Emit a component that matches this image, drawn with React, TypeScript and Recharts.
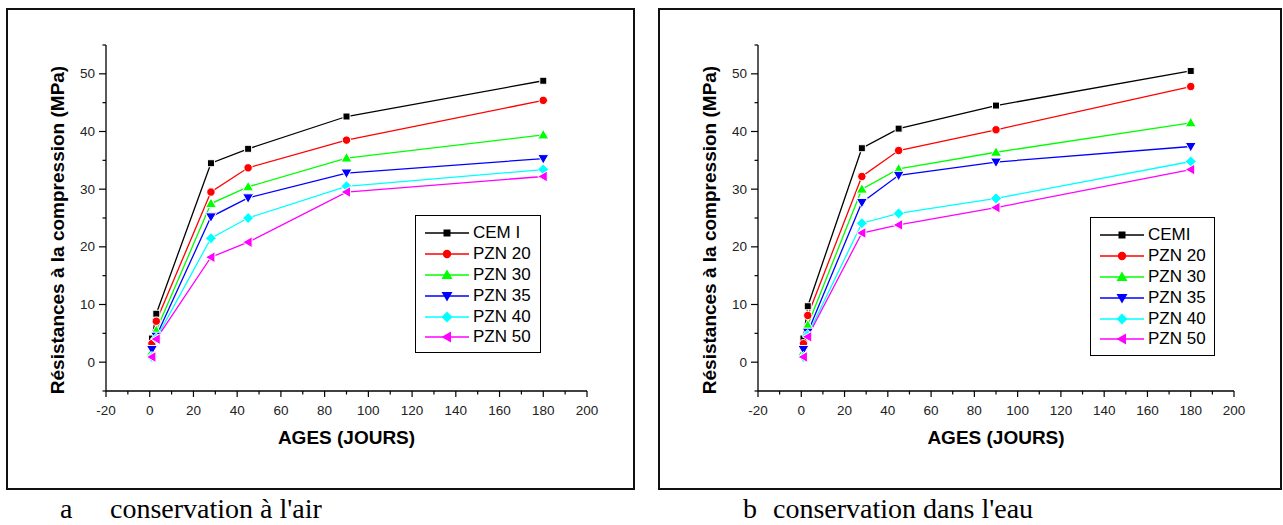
import { LineChart, Line, XAxis, YAxis } from 'recharts';

// ages (days) and compressive strength (MPa)
const ages = [1, 3, 28, 45, 90, 180];

const cemAir = [4.1, 8.4, 34.5, 37.0, 42.6, 48.8];
const pzn20Air = [3.2, 7.1, 29.5, 33.7, 38.5, 45.4];
const pzn30Air = [1.8, 5.5, 27.5, 30.4, 35.4, 39.4];
const pzn35Air = [2.2, 4.5, 25.2, 28.5, 32.8, 35.3];
const pzn40Air = [0.9, 4.1, 21.5, 25.0, 30.5, 33.4];
const pzn50Air = [0.9, 4.0, 18.2, 20.8, 29.5, 32.2];

const cemWater = [4.1, 9.7, 37.1, 40.5, 44.5, 50.5];
const pzn20Water = [3.2, 8.1, 32.2, 36.7, 40.3, 47.8];
const pzn30Water = [1.8, 6.4, 30.0, 33.5, 36.4, 41.5];
const pzn35Water = [2.2, 5.2, 27.7, 32.4, 34.7, 37.4];
const pzn40Water = [0.9, 4.7, 24.1, 25.8, 28.4, 34.8];
const pzn50Water = [0.9, 4.4, 22.4, 23.8, 26.8, 33.4];

const airNames = ['CEM I', 'PZN 20', 'PZN 30', 'PZN 35', 'PZN 40', 'PZN 50'];
const waterNames = ['CEMI', 'PZN 20', 'PZN 30', 'PZN 35', 'PZN 40', 'PZN 50'];

const xTicks = [-20, -10, 0, 10, 20, 30, 40, 50, 60, 70, 80, 90, 100, 110, 120, 130, 140, 150, 160, 170, 180, 190, 200];
const yTicks = [-5, 0, 5, 10, 15, 20, 25, 30, 35, 40, 45, 50, 55];

const seriesKeys = ['s0', 's1', 's2', 's3', 's4', 's5'];
const colors = ['#000000', '#ff0000', '#00ff00', '#0000ff', '#00ffff', '#ff00ff'];
const shapes = ['square', 'circle', 'up', 'down', 'diamond', 'left'];

const SANS = '"Liberation Sans", Arial, sans-serif';

function buildRows(series: number[][]) {
  return ages.map((age, i) => {
    const row: Record<string, number> = { age };
    series.forEach((s, k) => (row[seriesKeys[k]] = s[i]));
    return row;
  });
}

function Marker({ shape, cx, cy, color, outline }: { shape: string; cx: number; cy: number; color: string; outline?: boolean }) {
  const sw = outline ? 1 : 0;
  const st = outline ? '#fff' : 'none';
  if (shape === 'square') return <rect x={cx - 3.5} y={cy - 3.5} width={7} height={7} fill={color} stroke={st} strokeWidth={sw} />;
  if (shape === 'circle') return <circle cx={cx} cy={cy} r={4.2} fill={color} stroke={st} strokeWidth={sw} />;
  let pts = '';
  if (shape === 'up') pts = `${cx},${cy - 5.5} ${cx - 5.5},${cy + 4} ${cx + 5.5},${cy + 4}`;
  if (shape === 'down') pts = `${cx},${cy + 5.5} ${cx - 5.5},${cy - 4} ${cx + 5.5},${cy - 4}`;
  if (shape === 'diamond') pts = `${cx},${cy - 5.5} ${cx + 5.5},${cy} ${cx},${cy + 5.5} ${cx - 5.5},${cy}`;
  if (shape === 'left') pts = `${cx - 5.5},${cy} ${cx + 4},${cy - 5.5} ${cx + 4},${cy + 5.5}`;
  return <polygon points={pts} fill={color} stroke={st} strokeWidth={sw} />;
}

function XTick(props: any) {
  const { x, y, payload } = props;
  const major = payload.value % 20 === 0;
  return (
    <g>
      <line x1={x} x2={x} y1={y} y2={y + (major ? 6 : 3.5)} stroke="#000" strokeWidth={1.2} />
      {major && (
        <text x={x} y={y + 24} textAnchor="middle" fontSize={13.5} fill="#222" fontFamily={SANS}>
          {payload.value}
        </text>
      )}
    </g>
  );
}

function YTick(props: any) {
  const { x, y, payload } = props;
  const major = payload.value % 10 === 0;
  return (
    <g>
      <line x1={x} x2={x - (major ? 7 : 3.5)} y1={y} y2={y} stroke="#000" strokeWidth={1.2} />
      {major && (
        <text x={x - 11} y={y + 4.5} textAnchor="end" fontSize={13.5} fill="#222" fontFamily={SANS}>
          {payload.value}
        </text>
      )}
    </g>
  );
}

function LegendBox({ names, left, top, width, height }: { names: string[]; left: number; top: number; width: number; height: number }) {
  return (
    <div
      style={{
        position: 'absolute', left, top, width, height, boxSizing: 'border-box',
        border: '1px solid #000', background: '#fff', paddingTop: 7, fontFamily: SANS,
      }}
    >
      {names.map((n, i) => (
        <div key={n + i} style={{ display: 'flex', alignItems: 'center', height: 20.8 }}>
          <svg width={54} height={16} style={{ marginLeft: 9 }}>
            <line x1={0} x2={44} y1={8} y2={8} stroke={colors[i]} strokeWidth={1.3} />
            <Marker shape={shapes[i]} cx={22} cy={8} color={colors[i]} />
          </svg>
          <span style={{ fontSize: 17, color: '#000', marginLeft: -6 }}>{n}</span>
        </div>
      ))}
    </div>
  );
}

function Panel({ series, left, width, plotRight }: { series: number[][]; left: number; width: number; plotRight: number }) {
  const rows = buildRows(series);
  return (
    <div style={{ position: 'absolute', left, top: 0, width, height: 500 }}>
      <LineChart width={width} height={500} data={rows} margin={{ top: 45, right: width - plotRight, left: 0, bottom: 49 }}>
        <XAxis
          dataKey="age" type="number" domain={[-20, 200]} ticks={xTicks} interval={0}
          height={60} tickSize={0} tickMargin={0} tickLine={false} tick={XTick}
          axisLine={{ stroke: '#000', strokeWidth: 1.3 }}
        />
        <YAxis
          type="number" domain={[-5, 55]} ticks={yTicks} interval={0}
          width={106} tickSize={0} tickMargin={0} tickLine={false} tick={YTick}
          axisLine={{ stroke: '#000', strokeWidth: 1.3 }}
        />
        {seriesKeys.map((k, i) => (
          <Line
            key={k} dataKey={k} stroke={colors[i]} strokeWidth={1.3} isAnimationActive={false}
            dot={(p: any) => <Marker key={k + p.index} shape={shapes[i]} cx={p.cx} cy={p.cy} color={colors[i]} outline />}
            activeDot={false}
          />
        ))}
      </LineChart>
      <div
        style={{
          position: 'absolute', left: 58, top: 230, transform: 'translate(-50%, -50%) rotate(-90deg)',
          whiteSpace: 'nowrap', fontFamily: SANS, fontWeight: 'bold', fontSize: 19, color: '#000',
        }}
      >
        Résistances à la compression (MPa)
      </div>
      <div
        style={{
          position: 'absolute', left: (106 + plotRight) / 2, top: 438, transform: 'translate(-50%, -50%)',
          whiteSpace: 'nowrap', fontFamily: SANS, fontWeight: 'bold', fontSize: 19, color: '#000',
        }}
      >
        AGES (JOURS)
      </div>
    </div>
  );
}

export default function App() {
  const caption = { position: 'absolute' as const, top: 493, lineHeight: '32px', fontFamily: '"Liberation Serif", "Times New Roman", serif', fontSize: 28, color: '#000', whiteSpace: 'nowrap' as const };
  return (
    <div style={{ position: 'absolute', left: 0, top: 0, width: 1283, height: 525, background: '#fff', overflow: 'hidden' }}>
      <div style={{ position: 'absolute', left: 6, top: 8, width: 629, height: 482, border: '2px solid #111', boxSizing: 'border-box' }} />
      <div style={{ position: 'absolute', left: 658, top: 8, width: 624, height: 482, border: '2px solid #111', boxSizing: 'border-box' }} />
      <Panel series={[cemAir, pzn20Air, pzn30Air, pzn35Air, pzn40Air, pzn50Air]} left={0} width={640} plotRight={587} />
      <Panel series={[cemWater, pzn20Water, pzn30Water, pzn35Water, pzn40Water, pzn50Water]} left={652} width={631} plotRight={582} />
      <LegendBox names={airNames} left={415} top={215} width={126} height={138} />
      <LegendBox names={waterNames} left={1090} top={217} width={125} height={139} />
      <div style={{ ...caption, left: 60 }}>a</div>
      <div style={{ ...caption, left: 110 }}>conservation à l'air</div>
      <div style={{ ...caption, left: 743 }}>b</div>
      <div style={{ ...caption, left: 773 }}>conservation dans l'eau</div>
    </div>
  );
}
